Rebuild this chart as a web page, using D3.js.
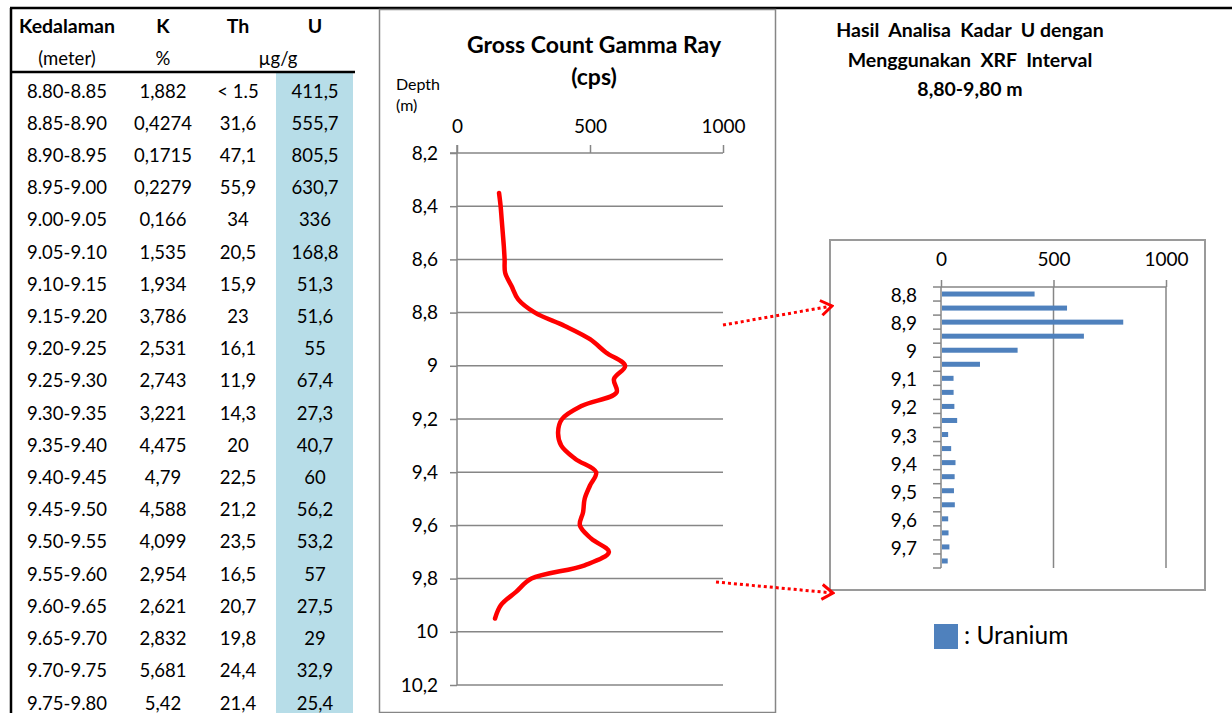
<!DOCTYPE html>
<html>
<head>
<meta charset="utf-8">
<script src="https://cdn.jsdelivr.net/npm/d3@7"></script>
<style>
  html, body { margin: 0; padding: 0; background: #fff; }
  svg { display: block; font-family: Lato, "Open Sans", sans-serif; }
</style>
</head>
<body>
<div id="chart"></div>
<script>
const depthRanges = ['8.80-8.85', '8.85-8.90', '8.90-8.95', '8.95-9.00', '9.00-9.05', '9.05-9.10', '9.10-9.15',
  '9.15-9.20', '9.20-9.25', '9.25-9.30', '9.30-9.35', '9.35-9.40', '9.40-9.45', '9.45-9.50', '9.50-9.55',
  '9.55-9.60', '9.60-9.65', '9.65-9.70', '9.70-9.75', '9.75-9.80'];
const kValues = ['1,882', '0,4274', '0,1715', '0,2279', '0,166', '1,535', '1,934', '3,786', '2,531', '2,743',
  '3,221', '4,475', '4,79', '4,588', '4,099', '2,954', '2,621', '2,832', '5,681', '5,42'];
const thValues = ['< 1.5', '31,6', '47,1', '55,9', '34', '20,5', '15,9', '23', '16,1', '11,9',
  '14,3', '20', '22,5', '21,2', '23,5', '16,5', '20,7', '19,8', '24,4', '21,4'];
const uValues = [411.5, 555.7, 805.5, 630.7, 336, 168.8, 51.3, 51.6, 55, 67.4,
  27.3, 40.7, 60, 56.2, 53.2, 57, 27.5, 29, 32.9, 25.4];
const barDepths = [8.8, 8.85, 8.9, 8.95, 9.0, 9.05, 9.1, 9.15, 9.2, 9.25,
  9.3, 9.35, 9.4, 9.45, 9.5, 9.55, 9.6, 9.65, 9.7, 9.75];

// gross count log
const gammaDepth = [8.35, 8.4, 8.45, 8.5, 8.55, 8.6, 8.65, 8.7, 8.75, 8.8, 8.85, 8.9, 8.95, 9.0, 9.05, 9.1,
  9.15, 9.2, 9.25, 9.3, 9.35, 9.4, 9.45, 9.5, 9.55, 9.6, 9.65, 9.7, 9.75, 9.8, 9.85, 9.9, 9.95];
const gammaCps = [158, 164, 168, 172, 176, 179, 181, 205, 230, 293, 405, 500, 560, 632, 590, 600,
  470, 395, 380, 392, 445, 523, 500, 480, 474, 462, 505, 571, 480, 280, 222, 165, 143];

const depthTicks = [8.2, 8.4, 8.6, 8.8, 9.0, 9.2, 9.4, 9.6, 9.8, 10.0, 10.2];
const cpsTicks = [0, 500, 1000];
const uTicks = [0, 500, 1000];

const W = 1232, H = 713;
const comma = v => String(+v.toFixed(2)).replace('.', ',');
const gridColor = '#868686';

const svg = d3.select('#chart').append('svg')
  .attr('width', W).attr('height', H)
  .attr('viewBox', `0 0 ${W} ${H}`);

// ---------- table ----------
const rowY = d3.scaleLinear().domain([0, 19]).range([91, 703]);
const cols = [67, 163, 238, 315];

svg.append('rect')
  .attr('x', 276).attr('y', 73).attr('width', 77).attr('height', H - 73)
  .attr('fill', '#b7dde8');

svg.append('line').attr('x1', 10).attr('x2', W).attr('y1', 8).attr('y2', 8)
  .attr('stroke', '#000').attr('stroke-width', 2.5);
svg.append('line').attr('x1', 11).attr('x2', 11).attr('y1', 8).attr('y2', H)
  .attr('stroke', '#000').attr('stroke-width', 2.5);
svg.append('line').attr('x1', 11).attr('x2', 355).attr('y1', 72).attr('y2', 72)
  .attr('stroke', '#000').attr('stroke-width', 2.5);

const header = svg.append('g').attr('font-size', '19.5px').attr('fill', '#000').attr('text-anchor', 'middle');
['Kedalaman', 'K', 'Th', 'U'].forEach((t, i) => {
  header.append('text').attr('x', cols[i]).attr('y', 33).attr('font-weight', 700).text(t);
});
header.append('text').attr('x', cols[0]).attr('y', 65).attr('font-size', '18.5px').text('(meter)');
header.append('text').attr('x', cols[1]).attr('y', 65).attr('font-size', '18.5px').text('%');
header.append('text').attr('x', 278).attr('y', 65).attr('font-size', '18.5px').text('µg/g');

const body = svg.append('g').attr('font-size', '18.5px').attr('fill', '#000').attr('text-anchor', 'middle');
depthRanges.forEach((d, i) => {
  const y = rowY(i) + 6.5;
  [d, kValues[i], thValues[i], comma(uValues[i])].forEach((t, j) => {
    body.append('text').attr('x', cols[j]).attr('y', y).text(t);
  });
});

// ---------- gamma ray log ----------
svg.append('rect')
  .attr('x', 379.5).attr('y', 9.5).attr('width', 396).attr('height', 703)
  .attr('fill', 'none').attr('stroke', gridColor).attr('stroke-width', 1.5);

svg.append('text').attr('x', 594).attr('y', 53).attr('text-anchor', 'middle')
  .attr('font-size', '23px').attr('font-weight', 700).text('Gross Count Gamma Ray');
svg.append('text').attr('x', 594).attr('y', 85).attr('text-anchor', 'middle')
  .attr('font-size', '23px').attr('font-weight', 700).text('(cps)');
svg.append('text').attr('x', 396).attr('y', 90).attr('font-size', '16px').text('Depth');
svg.append('text').attr('x', 396).attr('y', 111).attr('font-size', '16px').text('(m)');

const gx = d3.scaleLinear().domain([0, 1000]).range([457, 723]);
const gy = d3.scaleLinear().domain([8.2, 10.2]).range([153, 685]);

svg.append('g').selectAll('line').data(depthTicks.slice(1)).join('line')
  .attr('x1', gx(0)).attr('x2', gx(1000))
  .attr('y1', d => gy(d)).attr('y2', d => gy(d))
  .attr('stroke', gridColor).attr('stroke-width', 1.5);

const gTop = svg.append('g').attr('transform', `translate(0,${gy(8.2)})`)
  .call(d3.axisTop(gx).tickValues(cpsTicks).tickSize(8).tickPadding(12).tickFormat(d3.format('d')));
const gLeft = svg.append('g').attr('transform', `translate(${gx(0)},0)`)
  .call(d3.axisLeft(gy).tickValues(depthTicks).tickSize(7).tickPadding(12).tickFormat(comma));
[gTop, gLeft].forEach(a => {
  a.select('.domain').attr('stroke', gridColor).attr('stroke-width', 1.5);
  a.selectAll('.tick line').attr('stroke', gridColor).attr('stroke-width', 1.5);
  a.selectAll('text').attr('font-size', '19px').attr('font-family', 'Lato, sans-serif').attr('fill', '#000');
});
gTop.select('.domain').attr('d', `M${gx(0) - 7},0H${gx(1000)}`);
gTop.selectAll('text').attr('dy', '0');
gLeft.select('.domain').attr('d', `M0,${gy(8.2) - 8}V${gy(10.2)}`);

const gammaLine = d3.line()
  .x((d, i) => gx(gammaCps[i]))
  .y(d => gy(d))
  .curve(d3.curveCatmullRom.alpha(0.5));
svg.append('path').datum(gammaDepth)
  .attr('d', gammaLine)
  .attr('fill', 'none').attr('stroke', '#ff0000').attr('stroke-width', 4.5)
  .attr('stroke-linecap', 'round').attr('stroke-linejoin', 'round');

// ---------- XRF uranium bars ----------
[['Hasil  Analisa  Kadar  U dengan', 37], ['Menggunakan  XRF  Interval', 67], ['8,80-9,80 m', 96]]
  .forEach(([t, y]) => {
    svg.append('text').attr('x', 970).attr('y', y).attr('text-anchor', 'middle')
      .attr('font-size', '19.5px').attr('font-weight', 700).style('white-space', 'pre').text(t);
  });

svg.append('rect')
  .attr('x', 830).attr('y', 240).attr('width', 375).attr('height', 350)
  .attr('fill', 'none').attr('stroke', '#9a9a9a').attr('stroke-width', 2);

const bx = d3.scaleLinear().domain([0, 1000]).range([941, 1166]);
const by = d3.scaleBand().domain(barDepths).range([287, 568]);

svg.append('g').selectAll('line').data(uTicks.slice(1)).join('line')
  .attr('x1', d => bx(d)).attr('x2', d => bx(d))
  .attr('y1', 287).attr('y2', 568)
  .attr('stroke', gridColor).attr('stroke-width', 1.5);

const bTop = svg.append('g').attr('transform', 'translate(0,287)')
  .call(d3.axisTop(bx).tickValues(uTicks).tickSize(7).tickPadding(14).tickFormat(d3.format('d')));
bTop.select('.domain').attr('d', `M${bx(0)},0H${bx(1000)}`);

const bLeft = svg.append('g').attr('transform', `translate(${bx(0)},0)`)
  .call(d3.axisLeft(by).tickSize(0).tickPadding(24)
    .tickFormat((d, i) => i % 2 === 0 ? comma(d) : ''));
bLeft.select('.domain').attr('d', `M0,287V568`);
// boundary ticks between categories
bLeft.append('g').selectAll('line').data(d3.range(21)).join('line')
  .attr('x1', -8).attr('x2', 0)
  .attr('y1', i => 287 + i * by.step()).attr('y2', i => 287 + i * by.step())
  .attr('stroke', gridColor).attr('stroke-width', 1.5);

[bTop, bLeft].forEach(a => {
  a.select('.domain').attr('stroke', gridColor).attr('stroke-width', 1.5);
  a.selectAll('.tick line').attr('stroke', gridColor).attr('stroke-width', 1.5);
  a.selectAll('text').attr('font-size', '19px').attr('font-family', 'Lato, sans-serif').attr('fill', '#000');
});
bTop.selectAll('text').attr('dy', '0');
bLeft.selectAll('.tick text').attr('dy', '0.42em');

svg.append('g').selectAll('rect').data(uValues).join('rect')
  .attr('x', bx(0) + 1)
  .attr('y', (d, i) => by(barDepths[i]) + by.bandwidth() / 2 - 2.5)
  .attr('width', d => bx(d) - bx(0))
  .attr('height', 5)
  .attr('fill', '#4f81bd');

// legend
svg.append('rect').attr('x', 934).attr('y', 624).attr('width', 24).attr('height', 25).attr('fill', '#4f81bd');
svg.append('text').attr('x', 964).attr('y', 644).attr('font-size', '24.5px').text(': Uranium');

// ---------- dotted arrows linking the two panels ----------
svg.append('defs').append('marker')
  .attr('id', 'chev').attr('viewBox', '0 0 14 18').attr('refX', 12).attr('refY', 9)
  .attr('markerWidth', 14).attr('markerHeight', 18).attr('markerUnits', 'userSpaceOnUse')
  .attr('orient', 'auto')
  .append('path').attr('d', 'M1,1.5L12,9L1,16.5')
  .attr('fill', 'none').attr('stroke', '#ff0000').attr('stroke-width', 3);

[[[723, 325], [832, 306]], [[716, 582], [833, 593]]].forEach(([a, b]) => {
  svg.append('line')
    .attr('x1', a[0]).attr('y1', a[1]).attr('x2', b[0]).attr('y2', b[1])
    .attr('stroke', '#ff0000').attr('stroke-width', 3).attr('stroke-dasharray', '3,3')
    .attr('marker-end', 'url(#chev)');
});
</script>
</body>
</html>
